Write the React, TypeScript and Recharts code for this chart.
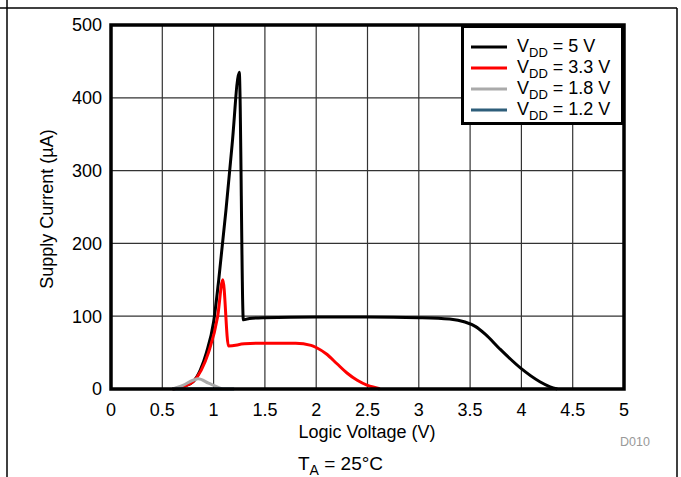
import React from 'react';
import { LineChart, Line, XAxis, YAxis, CartesianGrid } from 'recharts';

const xTicks = [0, 0.5, 1, 1.5, 2, 2.5, 3, 3.5, 4, 4.5, 5];
const yTicks = [0, 100, 200, 300, 400, 500];

const v5X = [0.6, 0.7, 0.8, 0.87, 0.93, 1.0, 1.05, 1.12, 1.18, 1.25, 1.29, 1.35, 1.5, 2.0, 2.5, 3.0, 3.3, 3.45, 3.55, 3.65, 3.79, 3.99, 4.18, 4.28, 4.35];
const v5Y = [0, 3, 10, 26, 50, 92, 150, 245, 335, 435, 95, 97, 98, 99, 99, 98, 96, 92, 86, 75, 55, 29, 10, 3, 0];

const v33X = [0.6, 0.7, 0.8, 0.88, 0.95, 1.04, 1.09, 1.145, 1.3, 1.5, 1.8, 1.95, 2.0, 2.1, 2.2, 2.3, 2.4, 2.5, 2.6, 2.62];
const v33Y = [0, 3, 10, 26, 50, 100, 150, 59, 62, 63, 63, 60, 57, 48, 35, 22, 12, 5, 1, 0];

const v18X = [0.6, 0.7, 0.8, 0.85, 0.95, 1.05, 1.08];
const v18Y = [0, 5, 12, 14, 8, 2, 0];

const v12X = [0.6, 0.8, 1.0, 1.2];
const v12Y = [0, 0, 0, 0];

const seriesNames = ['5 V', '3.3 V', '1.8 V', '1.2 V'];
const seriesColors = ['#000000', '#ff0000', '#aaaaaa', '#2e5e7a'];

const toData = (xs: number[], ys: number[]) => xs.map((x, i) => ({ x, y: ys[i] }));
const series = [
  toData(v5X, v5Y),
  toData(v33X, v33Y),
  toData(v18X, v18Y),
  toData(v12X, v12Y),
];

const FONT = '"Liberation Sans", Arial, sans-serif';

export default function App() {
  return (
    <div style={{ position: 'absolute', left: 0, top: 0, width: 681, height: 477, background: '#fff', fontFamily: FONT }}>
      <LineChart width={681} height={477} margin={{ top: 25, right: 57, bottom: 58, left: 0 }}>
        <CartesianGrid stroke="#333" strokeWidth={1.2} />
        <XAxis
          dataKey="x"
          type="number"
          domain={[0, 5]}
          ticks={xTicks}
          allowDataOverflow
          height={30}
          tickSize={0}
          tickMargin={14}
          axisLine={false}
          tick={{ fontSize: 18, fill: '#000', fontFamily: FONT }}
        />
        <YAxis
          dataKey="y"
          type="number"
          domain={[0, 500]}
          ticks={yTicks}
          width={111}
          tickSize={0}
          tickMargin={9}
          axisLine={false}
          tick={{ fontSize: 18, fill: '#000', fontFamily: FONT }}
        />
        {series.map((d, i) => (
          <Line
            key={seriesNames[i]}
            data={d}
            dataKey="y"
            type="monotone"
            stroke={seriesColors[i]}
            strokeWidth={3}
            dot={false}
            isAnimationActive={false}
          />
        ))}
      </LineChart>
      <svg width={681} height={477} style={{ position: 'absolute', left: 0, top: 0, pointerEvents: 'none' }}>
        <rect x={111} y={25} width={513} height={364} fill="none" stroke="#000" strokeWidth={3.5} />
        <line x1={0} y1={8} x2={677} y2={8} stroke="#000" strokeWidth={1.5} />
        <line x1={7} y1={0} x2={7} y2={477} stroke="#000" strokeWidth={1.5} />
        <line x1={677} y1={8} x2={677} y2={477} stroke="#000" strokeWidth={1.5} />
        <text transform="translate(53,209) rotate(-90)" textAnchor="middle" fontSize={18} fontFamily={FONT} fill="#000">
          Supply Current (µA)
        </text>
        <text x={367} y={438} textAnchor="middle" fontSize={18} fontFamily={FONT} fill="#000">
          Logic Voltage (V)
        </text>
        <text x={620} y={446} fontSize={12.5} fontFamily={FONT} fill="#999">
          D010
        </text>
        <text x={298} y={470} fontSize={19} fontFamily={FONT} fill="#000">
          T<tspan fontSize={14} dy={5}>A</tspan>
          <tspan dy={-5}> = 25°C</tspan>
        </text>
        <g transform="translate(461,25)">
          <rect x={1.5} y={1.5} width={160} height={97} fill="#fff" stroke="#000" strokeWidth={3} />
          {seriesNames.map((n, i) => (
            <g key={n}>
              <line x1={10} x2={46} y1={22 + i * 21} y2={22 + i * 21} stroke={seriesColors[i]} strokeWidth={3} />
              <text x={56} y={27 + i * 21} fontSize={18} fontFamily={FONT} fill="#000">
                V<tspan fontSize={13} dy={5}>DD</tspan>
                <tspan dy={-5}> = {n}</tspan>
              </text>
            </g>
          ))}
        </g>
      </svg>
    </div>
  );
}
